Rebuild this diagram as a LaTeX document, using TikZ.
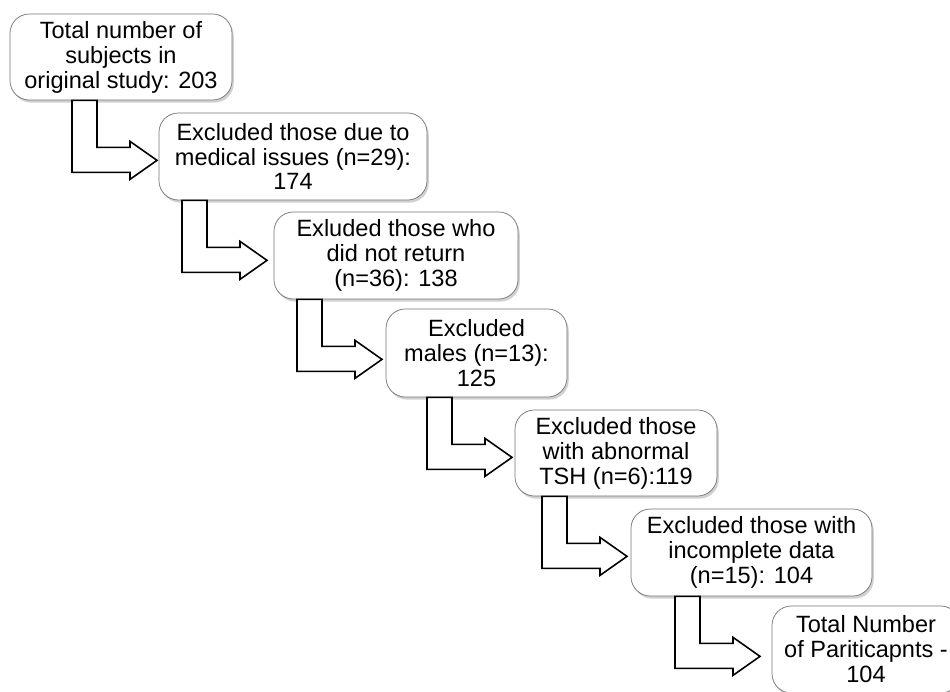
\documentclass[tikz,border=0pt]{standalone}
\usepackage{fontspec}
\setmainfont{Liberation Sans}
\usetikzlibrary{shadows}

\begin{document}
\begin{tikzpicture}
  [x=0.02cm,y=-0.02cm,
   every node/.style={draw=black!55,fill=white,rounded corners=11,align=center,
     inner sep=0pt,font=\fontsize{13.4}{14.2}\selectfont,
     drop shadow={shadow xshift=1pt,shadow yshift=-1.5pt,opacity=.3,fill=black!60}},
   bent/.style={draw=black,fill=white,line width=0.9pt,line join=miter}]
  \useasboundingbox (0,0) rectangle (950,691);
  \clip (0,0) rectangle (950,691);

  \node[minimum width=222*0.02cm,minimum height=86*0.02cm] (b1) at (121,57)
    {Total number of\\subjects in\\original study: 203};
  \node[minimum width=268*0.02cm,minimum height=87*0.02cm] (b2) at (293,156.5)
    {Excluded those due to\\medical issues (n=29):\\174};
  \node[minimum width=244*0.02cm,minimum height=87*0.02cm] (b3) at (396,255.5)
    {Exluded those who\\did not return\\ (n=36): 138};
  \node[minimum width=181*0.02cm,minimum height=88*0.02cm] (b4) at (476.5,353)
    {Excluded\\males (n=13):\\125};
  \node[minimum width=202*0.02cm,minimum height=86*0.02cm] (b5) at (616,453)
    {Excluded those\\with abnormal\\TSH (n=6):119};
  \node[minimum width=241*0.02cm,minimum height=87*0.02cm] (b6) at (751.5,552.5)
    {Excluded those with\\incomplete data\\(n=15): 104};
  \node[minimum width=188*0.02cm,minimum height=87*0.02cm] (b7) at (866,649.5)
    {Total Number\\of Pariticapnts -\\104};

  \foreach \from/\x in {b1/72,b2/182,b3/297,b4/427,b5/542,b6/675}
    \draw[bent] (\x,0 |- \from.south) -- ++(0,72) -- ++(58,0) -- ++(0,7)
      -- ++(27,-19) -- ++(-27,-19) -- ++(0,6) -- ++(-33,0) -- ++(0,-47) -- cycle;

\end{tikzpicture}
\end{document}
